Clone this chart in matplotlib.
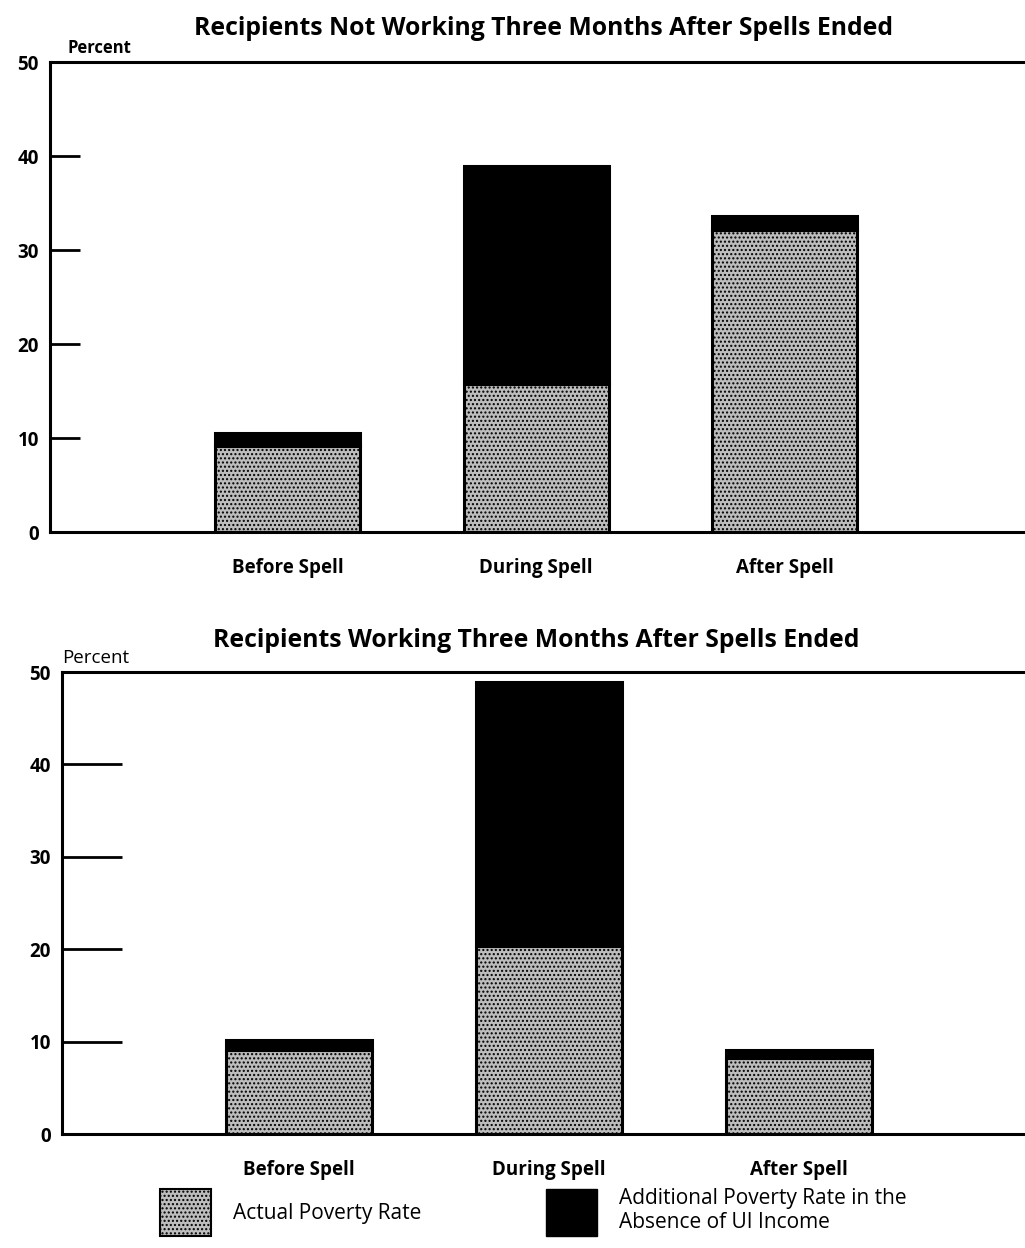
import matplotlib.pyplot as plt
from matplotlib.patches import Patch

categories = ['Before Spell', 'During Spell', 'After Spell']

# percent
not_working_actual = [9.1, 15.7, 32.1]
not_working_additional = [1.4, 23.2, 1.5]
working_actual = [9.1, 20.4, 8.2]
working_additional = [1.1, 28.5, 0.9]

title_top = 'Recipients Not Working Three Months After Spells Ended'
title_bottom = 'Recipients Working Three Months After Spells Ended'

plt.rcParams['font.family'] = ['Open Sans', 'DejaVu Sans']

gray = '#bdbdbd'
fig = plt.figure(figsize=(10.25, 12.48), dpi=100)


def panel(rect, actual, additional, xlim, width, ticklen, title, title_x, title_gap,
          pweight, px, psize):
    ax = fig.add_axes(rect)
    x = range(len(categories))
    ax.bar(x, actual, width=width, color=gray, edgecolor='black', linewidth=2.2, hatch='....')
    ax.bar(x, additional, bottom=actual, width=width, color='black', edgecolor='black', linewidth=2.2)
    ax.set_xlim(*xlim)
    ax.set_ylim(0, 50)
    ax.set_yticks([0, 10, 20, 30, 40, 50])
    ax.set_xticks(list(x))
    ax.set_xticklabels(categories, fontsize=13.5, fontweight='bold')
    ax.tick_params(axis='y', direction='in', length=ticklen, width=2, pad=8,
                   labelsize=13.5)
    for lab in ax.get_yticklabels():
        lab.set_fontweight('bold')
    ax.tick_params(axis='x', length=0, pad=19)
    ax.spines['right'].set_visible(False)
    for s in ['left', 'top', 'bottom']:
        ax.spines[s].set_linewidth(2.2)
    ax.text(px, 1.01, 'Percent', transform=ax.transAxes, fontsize=psize,
            fontweight=pweight, ha='left', va='bottom')
    fig.text(title_x, rect[1] + rect[3] + title_gap, title, fontsize=17.8,
             fontweight='bold', ha='center', va='baseline')
    return ax


panel([0.0488, 0.5737, 0.9512, 0.3766], not_working_actual, not_working_additional,
      (-0.955, 2.965), 0.583, 21.6, title_top, 0.530, 0.022, 'bold', 0.018, 12)
panel([0.0605, 0.0913, 0.9395, 0.3702], working_actual, working_additional,
      (-0.948, 2.904), 0.584, 43, title_bottom, 0.523, 0.020, 'normal', 0.0, 13.5)

handles = [Patch(facecolor=gray, edgecolor='black', hatch='....', linewidth=1.5),
           Patch(facecolor='black', edgecolor='black')]
labels = ['Actual Poverty Rate', 'Additional Poverty Rate in the\nAbsence of UI Income']
fig.legend(handles, labels, loc='upper left', bbox_to_anchor=(0.156, 0.048),
           ncol=2, frameon=False, fontsize=15, handlelength=2.45, handleheight=3.1,
           handletextpad=1.05, columnspacing=6.0, borderpad=0, borderaxespad=0,
           labelspacing=0.2)

fig.savefig('out.png', dpi=100)
